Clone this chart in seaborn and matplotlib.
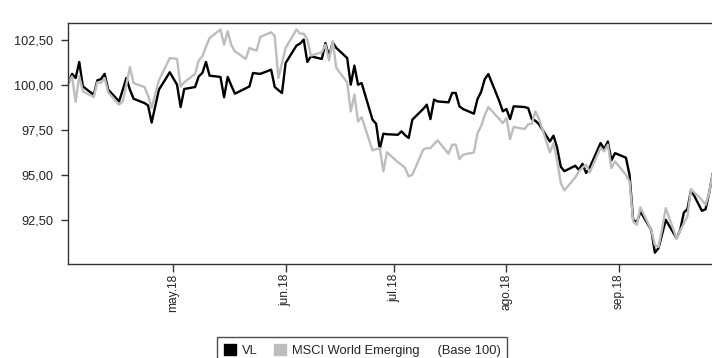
import matplotlib
matplotlib.use("Agg")
import matplotlib.pyplot as plt
from matplotlib.patches import Patch
import pandas as pd
import seaborn as sns

# Business-day closes (base 100)
dates = [
    "2018-04-02", "2018-04-03", "2018-04-04", "2018-04-05", "2018-04-06",
    "2018-04-09", "2018-04-10", "2018-04-11", "2018-04-12", "2018-04-13",
    "2018-04-16", "2018-04-17", "2018-04-18", "2018-04-19", "2018-04-20",
    "2018-04-23", "2018-04-24", "2018-04-25", "2018-04-26", "2018-04-27",
    "2018-04-30", "2018-05-02", "2018-05-03", "2018-05-04",
    "2018-05-07", "2018-05-08", "2018-05-09", "2018-05-10", "2018-05-11",
    "2018-05-14", "2018-05-15", "2018-05-16", "2018-05-17", "2018-05-18",
    "2018-05-21", "2018-05-22", "2018-05-23", "2018-05-24", "2018-05-25",
    "2018-05-28", "2018-05-29", "2018-05-30", "2018-05-31", "2018-06-01",
    "2018-06-04", "2018-06-05", "2018-06-06", "2018-06-07", "2018-06-08",
    "2018-06-11", "2018-06-12", "2018-06-13", "2018-06-14", "2018-06-15",
    "2018-06-18", "2018-06-19", "2018-06-20", "2018-06-21", "2018-06-22",
    "2018-06-25", "2018-06-26", "2018-06-27", "2018-06-28", "2018-06-29",
    "2018-07-02", "2018-07-03", "2018-07-04", "2018-07-05", "2018-07-06",
    "2018-07-09", "2018-07-10", "2018-07-11", "2018-07-12", "2018-07-13",
    "2018-07-16", "2018-07-17", "2018-07-18", "2018-07-19", "2018-07-20",
    "2018-07-23", "2018-07-24", "2018-07-25", "2018-07-26", "2018-07-27",
    "2018-07-30", "2018-07-31", "2018-08-01", "2018-08-02", "2018-08-03",
    "2018-08-06", "2018-08-07", "2018-08-08", "2018-08-09", "2018-08-10",
    "2018-08-13", "2018-08-14", "2018-08-15", "2018-08-16", "2018-08-17",
    "2018-08-20", "2018-08-21", "2018-08-22", "2018-08-23", "2018-08-24",
    "2018-08-27", "2018-08-28", "2018-08-29", "2018-08-30", "2018-08-31",
    "2018-09-03", "2018-09-04", "2018-09-05", "2018-09-06", "2018-09-07",
    "2018-09-10", "2018-09-11", "2018-09-12", "2018-09-13", "2018-09-14",
    "2018-09-17", "2018-09-18", "2018-09-19", "2018-09-20", "2018-09-21",
    "2018-09-24", "2018-09-25", "2018-09-26", "2018-09-27",
]

vl = [
    100.10, 100.60, 100.37, 101.26, 99.90,
    99.44, 100.24, 100.31, 100.60, 99.72,
    99.07, 99.70, 100.37, 99.72, 99.22,
    98.98, 98.85, 97.90, 98.80, 99.72,
    100.69, 100.00, 98.76, 99.76,
    99.87, 100.46, 100.65, 101.26, 100.50,
    100.43, 99.30, 100.43, 99.95, 99.50,
    99.80, 99.90, 100.65, 100.62, 100.60,
    100.83, 99.87, 99.70, 99.54, 101.20,
    102.17, 102.28, 102.50, 101.26, 101.57,
    101.43, 102.31, 101.57, 102.35, 102.04,
    101.48, 100.00, 101.06, 100.00, 100.09,
    98.06, 97.83, 96.43, 97.28, 97.25,
    97.22, 97.41, 97.20, 97.04, 98.06,
    98.65, 98.89, 98.09, 99.17, 99.07,
    99.02, 99.54, 99.54, 98.80, 98.65,
    98.39, 99.20, 99.60, 100.30, 100.59,
    99.10, 98.52, 98.65, 98.09, 98.80,
    98.76, 98.70, 98.09, 98.00, 97.80,
    96.85, 97.17, 96.50, 95.45, 95.20,
    95.50, 95.28, 95.61, 95.10, 95.40,
    96.76, 96.43, 96.85, 95.80, 96.20,
    95.95, 95.00, 92.50, 92.35, 92.96,
    91.94, 90.68, 90.93, 91.70, 92.50,
    91.48, 91.94, 92.90, 93.10, 94.17,
    93.00, 93.09, 94.00, 95.09,
]

msci = [
    100.15, 100.46, 99.04, 100.46, 99.63,
    99.31, 100.13, 100.09, 100.37, 99.57,
    98.89, 99.07, 100.00, 100.98, 100.09,
    99.87, 99.40, 98.70, 99.50, 100.24,
    101.48, 101.43, 99.90, 100.13,
    100.60, 101.35, 101.57, 102.10, 102.59,
    103.06, 102.22, 102.96, 102.20, 101.85,
    101.43, 102.04, 101.95, 101.90, 102.65,
    102.91, 102.69, 100.37, 101.20, 102.04,
    103.06, 102.83, 102.83, 102.50, 101.61,
    101.80, 102.22, 101.35, 102.41, 100.93,
    100.13, 98.52, 99.44, 97.96, 98.20,
    96.35, 96.42, 96.48, 95.19, 96.25,
    95.70, 95.56, 95.37, 94.91, 95.00,
    96.39, 96.48, 96.48, 96.70, 96.91,
    96.17, 96.67, 96.67, 95.87, 96.11,
    96.24, 97.30, 97.70, 98.30, 98.76,
    98.10, 97.87, 98.15, 96.98, 97.65,
    97.54, 97.80, 97.83, 98.52, 98.10,
    96.24, 96.76, 95.80, 94.54, 94.13,
    94.85, 95.19, 95.40, 95.56, 95.13,
    96.50, 96.30, 96.67, 95.37, 95.74,
    95.00, 94.63, 92.41, 92.22, 93.20,
    91.94, 91.10, 91.00, 92.00, 93.15,
    91.48, 91.90, 92.30, 92.70, 94.20,
    93.60, 93.33, 94.00, 95.09,
]

series_names = ["VL", "MSCI World Emerging"]
series_colors = ["#000000", "#bdbdbd"]
base_note = "(Base 100)"

month_ticks = ["2018-05-01", "2018-06-01", "2018-07-01", "2018-08-01", "2018-09-01"]
month_labels = ["may.18", "jun.18", "jul.18", "ago.18", "sep.18"]

y_ticks = [92.5, 95.0, 97.5, 100.0, 102.5]
y_labels = ["92,50", "95,00", "97,50", "100,00", "102,50"]

sns.set_theme(style="white")
plt.rcParams["font.family"] = ["Liberation Sans", "DejaVu Sans"]

df = pd.DataFrame({
    "fecha": pd.to_datetime(dates),
    series_names[0]: vl,
    series_names[1]: msci,
})
long_df = df.melt(id_vars="fecha", var_name="serie", value_name="valor")

W, H = 712, 358
fig = plt.figure(figsize=(W / 100, H / 100), dpi=100)
left_px, right_px, top_px, bottom_px = 68.4, 712.8, 22.5, 264.0
ax = fig.add_axes([left_px / W, 1 - bottom_px / H,
                   (right_px - left_px) / W, (bottom_px - top_px) / H])

sns.lineplot(
    data=long_df, x="fecha", y="valor", hue="serie",
    hue_order=series_names, palette=dict(zip(series_names, series_colors)),
    linewidth=1.7, estimator=None, legend=False, ax=ax,
)

ax.set_xlim(pd.Timestamp(dates[0]), pd.Timestamp(dates[-1]))
ax.set_ylim(90.05, 103.45)

ax.set_xticks(pd.to_datetime(month_ticks))
ax.set_xticklabels(month_labels, rotation=90)
ax.set_yticks(y_ticks)
ax.set_yticklabels(y_labels)
ax.set_xlabel("")
ax.set_ylabel("")

for side in ["left", "bottom", "top", "right"]:
    ax.spines[side].set_visible(True)
    ax.spines[side].set_color("#333333")
    ax.spines[side].set_linewidth(1.0)

ax.tick_params(axis="both", which="major", bottom=True, left=True,
               direction="out", color="#333333", width=1.0,
               labelcolor="#222222")
ax.tick_params(axis="x", length=5.5, pad=1.5, labelsize=8.6)
ax.tick_params(axis="y", length=5.0, pad=6.0, labelsize=9.2)

# Legend: two colour swatches, the index note follows the second label
handles = [Patch(facecolor=c, edgecolor=c) for c in series_colors]
labels = [series_names[0], series_names[1] + "     " + base_note]
leg = fig.legend(
    handles, labels, loc="upper left",
    bbox_to_anchor=(217.3 / W, 1 - 337.3 / H), bbox_transform=fig.transFigure,
    ncol=2, frameon=True, fancybox=False, edgecolor="#222222",
    fontsize=9.3, handlelength=0.93, handleheight=0.93, handletextpad=0.44,
    columnspacing=1.29, borderpad=0.5, borderaxespad=0.0,
)
leg.get_frame().set_linewidth(1.0)

fig.savefig("out.png", dpi=100, facecolor="white")
